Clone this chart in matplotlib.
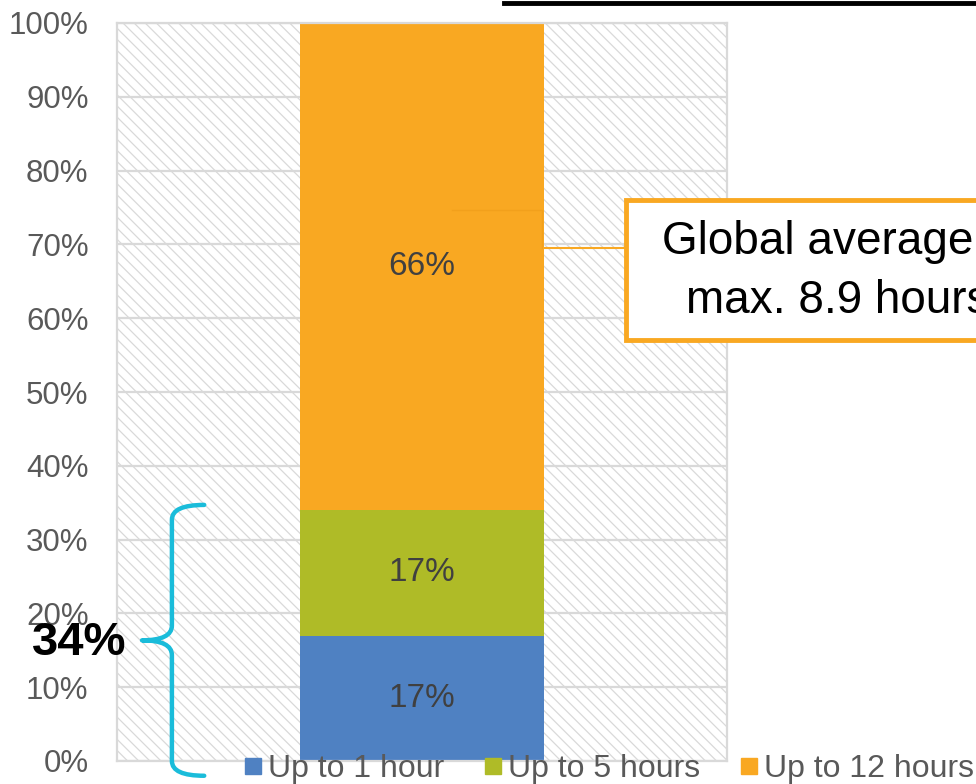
import matplotlib
matplotlib.use("Agg")
import matplotlib.pyplot as plt
import numpy as np
from matplotlib.lines import Line2D
from matplotlib.patches import Rectangle, PathPatch
from matplotlib.path import Path
from matplotlib.transforms import blended_transform_factory

plt.rcParams['font.family'] = ['Liberation Sans', 'DejaVu Sans']
plt.rcParams['hatch.linewidth'] = 0.9

# Share of respondents by maximum hours
categories = ["Up to 1 hour", "Up to 5 hours", "Up to 12 hours"]
shares = [17, 17, 66]
colors = ["#4F81C2", "#AFBB27", "#F9A822"]
ytick_labels = [f"{v}%" for v in range(0, 101, 10)]
callout_lines = ["Global average", "max. 8.9 hours"]

W, H = 976, 784
fig = plt.figure(figsize=(W / 100, H / 100), dpi=100)
ax = fig.add_axes([117 / W, (H - 761) / H, 610 / W, 738 / H])
ax.set_xlim(-0.5, 0.5)
ax.set_ylim(0, 1)

# hatched plot background
ax.patch.set_facecolor("white")
ax.add_patch(Rectangle((0, 0), 1, 1, transform=ax.transAxes, facecolor="white",
                       edgecolor="#d9d9d9", hatch="\\\\\\", lw=0, zorder=0))

ax.set_yticks(np.linspace(0, 1, 11))
ax.set_yticklabels(ytick_labels)
ax.set_xticks([])
ax.yaxis.grid(True, color="#d9d9d9", lw=1.6)
ax.set_axisbelow(True)
ax.tick_params(axis="y", length=0, pad=20.5, labelsize=22.5, labelcolor="#595959")
for s in ax.spines.values():
    s.set_color("#d9d9d9")
    s.set_linewidth(1.6)

# stacked bar
bottom = 0.0
bar_w = 0.4
for cat, v, c in zip(categories, shares, colors):
    ax.bar(0, v / 100, width=bar_w, bottom=bottom, color=c, zorder=2)
    ax.text(0, bottom + v / 200, f"{v}%", ha="center", va="center",
            fontsize=24, color="#404040", zorder=3)
    bottom += v / 100

# legend
handles = [Line2D([], [], marker="s", ls="", color=c, markersize=11) for c in colors]
fig.legend(handles, categories, loc="center left", bbox_to_anchor=(244 / W, 1 - 769 / H),
           ncol=3, frameon=False, fontsize=23, handlelength=0.55, handletextpad=0.2,
           columnspacing=1.25, labelcolor="#595959", borderaxespad=0, borderpad=0)

# curly bracket around the two shorter categories
low_share = (shares[0] + shares[1]) / 100
tr = blended_transform_factory(ax.transAxes, ax.transData)
ytop, ybot = low_share + 0.007, -0.02
ymid = (ytop + ybot) / 2
xe, xs, xt = 0.143, 0.090, 0.041
d = 0.02
verts = [(xe, ytop), (xs, ytop), (xs, ytop - d),
         (xs, ymid + d),
         (xs, ymid), (xt, ymid),
         (xs, ymid), (xs, ymid - d),
         (xs, ybot + d),
         (xs, ybot), (xe, ybot)]
codes = [Path.MOVETO, Path.CURVE3, Path.CURVE3,
         Path.LINETO,
         Path.CURVE3, Path.CURVE3,
         Path.CURVE3, Path.CURVE3,
         Path.LINETO,
         Path.CURVE3, Path.CURVE3]
ax.add_patch(PathPatch(Path(verts, codes), transform=tr, facecolor="none",
                       edgecolor="#1ABCDA", lw=3.2, capstyle="round",
                       joinstyle="round", clip_on=False, zorder=4))
ax.text(-0.062, ymid - 0.004, f"{shares[0] + shares[1]}%", transform=tr, ha="center",
        va="center", fontsize=34, fontweight="bold", color="black", zorder=5)

# callout for the largest segment
y_call = 0.695
ax.plot([bar_w / 2, 0.334], [y_call, y_call], color="#F9A822", lw=1.5,
        zorder=3, clip_on=False)
ax.plot([0.049, 0.196, 0.196], [0.747, 0.747, y_call], color="#F2A01C", lw=1.0,
        zorder=2.5)
fig.add_artist(Rectangle((626 / W, 1 - 340 / H), 430 / W, 140 / H,
                         transform=fig.transFigure, facecolor="white",
                         edgecolor="#F9A822", lw=3.5, zorder=6))
fig.text(662 / W, 1 - 242 / H, callout_lines[0], ha="left", va="center",
         fontsize=33, color="black", zorder=7)
fig.text(686 / W, 1 - 301 / H, callout_lines[1], ha="left", va="center",
         fontsize=33, color="black", zorder=7)

# heading rule
fig.add_artist(Line2D([504 / W, 1], [1 - 3 / H, 1 - 3 / H], color="black", lw=3.5,
                      transform=fig.transFigure))

fig.savefig("out.png", dpi=100)
